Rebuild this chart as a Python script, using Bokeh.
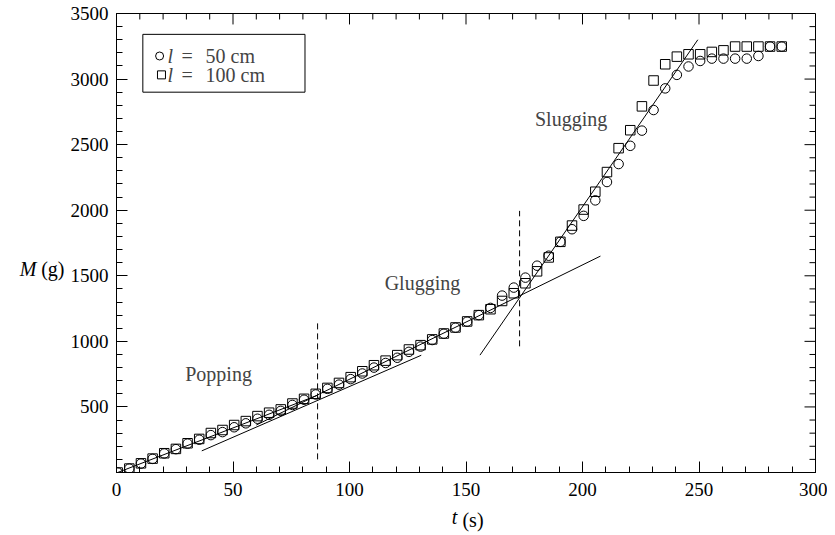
from bokeh.plotting import figure
from bokeh.models import Range1d, FixedTicker, Label, LinearAxis
from bokeh.embed import file_html
from bokeh.resources import INLINE

# ---- data ----
t = [0.5, 5.5, 10.5, 15.5, 20.5, 25.5, 30.5, 35.5, 40.5, 45.5,
     50.5, 55.5, 60.5, 65.5, 70.5, 75.5, 80.5, 85.5, 90.5, 95.5,
     100.5, 105.5, 110.5, 115.5, 120.5, 125.5, 130.5, 135.5, 140.5, 145.5,
     150.5, 155.5, 160.5, 165.5, 170.5, 175.5, 180.5, 185.5, 190.5, 195.5,
     200.5, 205.5, 210.5, 215.5, 220.5, 225.5, 230.5, 235.5, 240.5, 245.5,
     250.5, 255.5, 260.5, 265.5, 270.5, 275.5, 280.5, 285.5]
m_50 = [0, 30, 68, 104, 145, 178, 220, 250, 285, 308,
        345, 375, 410, 440, 470, 515, 555, 595, 638, 670,
        712, 755, 800, 835, 875, 920, 960, 1010, 1058, 1104,
        1150, 1200, 1255, 1349, 1410, 1486, 1577, 1653, 1759, 1855,
        1957, 2075, 2215, 2352, 2491, 2607, 2764, 2929, 3032, 3096,
        3138, 3156, 3156, 3156, 3156, 3176, 3248, 3248]
m_100 = [0, 30, 70, 106, 147, 180, 223, 256, 301, 324,
         362, 392, 430, 456, 481, 526, 562, 600, 645, 683,
         727, 772, 818, 853, 895, 938, 971, 1015, 1060, 1106,
         1152, 1200, 1245, 1308, 1367, 1443, 1534, 1640, 1759, 1883,
         2005, 2141, 2291, 2473, 2610, 2792, 2989, 3113, 3171, 3189,
         3189, 3207, 3219, 3248, 3248, 3248, 3248, 3248]

# fit lines (t, M end points)
line_start_t = [0.5, 36.6, 60.0, 156.0]
line_start_m = [0, 165, 362, 895]
line_end_t = [86.0, 130.8, 207.7, 249.5]
line_end_m = [587, 894, 1650, 3300]

# regime boundaries
bound_t = [86.3, 173.0]
bound_m0 = [100, 962]
bound_m1 = [1145, 1995]

x_ticks = [0, 50, 100, 150, 200, 250, 300]
y_ticks = [500, 1000, 1500, 2000, 2500, 3000, 3500]
x_minor = list(range(0, 301, 10))
y_minor = list(range(0, 3501, 100))

# axis-title anchor positions (data units)
title_t_pos = [145.1, 153.0]   # "t", "(s)"
title_m_pos = 1549             # row of "M (g)"

X_MAX = 300
Y_MAX = 3500
FONT = "Liberation Serif"

FRAME_W, FRAME_H = 699, 461
W, H = 827, 533
p = figure(width=W, height=H, x_range=Range1d(0, X_MAX), y_range=Range1d(0, Y_MAX),
           output_backend="svg", toolbar_location=None,
           min_border_left=116, min_border_top=13,
           min_border_right=W - 116 - FRAME_W, min_border_bottom=H - 13 - FRAME_H)
p.xgrid.visible = False
p.ygrid.visible = False
p.outline_line_color = "black"
p.background_fill_color = "white"
p.border_fill_color = "white"

MAJ, MIN = 11, 6

def style(ax, standoff):
    ax.axis_line_color = "black"
    ax.axis_line_width = 1
    ax.major_tick_in = MAJ
    ax.major_tick_out = 0
    ax.minor_tick_in = MIN
    ax.minor_tick_out = 0
    ax.major_tick_line_color = "black"
    ax.minor_tick_line_color = "black"
    ax.major_label_text_font = FONT
    ax.major_label_text_color = "black"
    ax.major_label_text_font_size = "19px"
    ax.major_label_standoff = standoff

p.xaxis.ticker = FixedTicker(ticks=x_ticks, minor_ticks=x_minor)
p.yaxis.ticker = FixedTicker(ticks=y_ticks, minor_ticks=y_minor)
style(p.xaxis[0], 10)
style(p.yaxis[0], 8)

def title_axis(pos, text, italic, standoff):
    ax = LinearAxis(ticker=FixedTicker(ticks=[pos], minor_ticks=[]),
                    major_label_overrides={pos: text})
    ax.axis_line_color = None
    ax.major_tick_line_color = None
    ax.minor_tick_line_color = None
    ax.major_tick_in = 0
    ax.major_tick_out = 0
    ax.minor_tick_in = 0
    ax.minor_tick_out = 0
    ax.major_label_text_font = FONT
    ax.major_label_text_color = "black"
    ax.major_label_text_font_size = "20px"
    ax.major_label_text_font_style = "italic" if italic else "normal"
    ax.major_label_standoff = standoff
    return ax

# axis titles: "M (g)" on the left, "t (s)" below
p.add_layout(title_axis(title_m_pos, "(g)", False, 3), "left")
p.add_layout(title_axis(title_m_pos, "M", True, 2), "left")
p.add_layout(title_axis(title_t_pos[0], "t", True, 7), "below")
p.add_layout(title_axis(title_t_pos[1], "(s)", False, -22), "below")

# mirrored inward ticks on top and right edges
px_x = X_MAX / FRAME_W   # data units per pixel (x)
px_y = Y_MAX / FRAME_H   # data units per pixel (y)
top_x = x_minor
top_len = [(MAJ if v in x_ticks else MIN) * px_y for v in top_x]
p.segment(x0=top_x, y0=[Y_MAX] * len(top_x), x1=top_x, y1=[Y_MAX - L for L in top_len],
          line_color="black", line_width=1)
right_y = y_minor
right_len = [(MAJ if v in y_ticks else MIN) * px_x for v in right_y]
p.segment(x0=[X_MAX] * len(right_y), y0=right_y, x1=[X_MAX - L for L in right_len], y1=right_y,
          line_color="black", line_width=1)

# fit lines
p.segment(x0=line_start_t, y0=line_start_m, x1=line_end_t, y1=line_end_m,
          line_color="black", line_width=1)
# boundaries
p.segment(x0=bound_t, y0=bound_m0, x1=bound_t, y1=bound_m1,
          line_color="black", line_width=1, line_dash="6 4")

# data
p.scatter(t, m_50, marker="circle", size=9.5, fill_color=None, line_color="black", line_width=1)
p.scatter(t, m_100, marker="square", size=9.5, fill_color=None, line_color="black", line_width=1)

# legend box (manual, for italic l)
p.quad(left=[11.3], right=[80.9], top=[3341], bottom=[2900],
       fill_color="white", line_color="black", line_width=1)
p.scatter([18.5], [3176], marker="circle", size=8, fill_color=None, line_color="black")
p.scatter([19.3], [3032], marker="square", size=8, fill_color=None, line_color="black")
for yy, txt in [(3176, "50 cm"), (3032, "100 cm")]:
    p.add_layout(Label(x=21.9, y=yy, text="l", text_font=FONT, text_font_style="italic",
                       text_font_size="20px", text_baseline="middle", text_align="left"))
    p.add_layout(Label(x=27.9, y=yy, text="=", text_font=FONT,
                       text_font_size="20px", text_baseline="middle", text_align="left"))
    p.add_layout(Label(x=38.2, y=yy, text=txt, text_font=FONT,
                       text_font_size="20px", text_baseline="middle", text_align="left"))

# regime labels
for tx, ty, txt in [(43.8, 752, "Popping"), (131.3, 1443, "Glugging"), (195.1, 2695, "Slugging")]:
    p.add_layout(Label(x=tx, y=ty, text=txt, text_font=FONT, text_font_size="20px",
                       text_baseline="middle", text_align="center"))

open("out.html", "w").write(file_html(p, INLINE))
